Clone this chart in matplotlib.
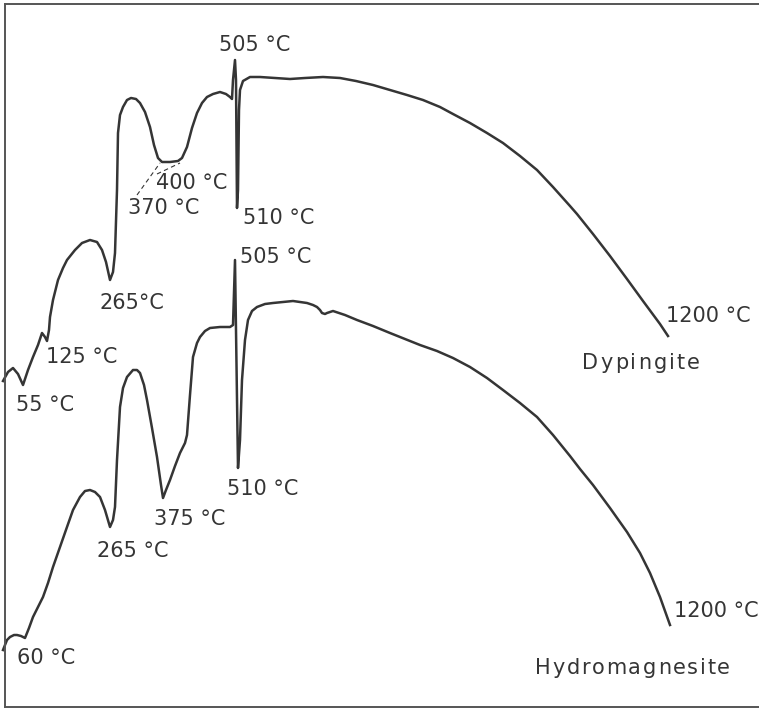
import matplotlib
matplotlib.use("Agg")
import matplotlib.pyplot as plt

# DTA traces in pixel units (x to the right, y downward)
dyp_x = [3, 8, 13, 18, 23, 28, 33, 38, 42, 45, 47, 49, 50, 53, 58, 63, 67, 75, 82, 90,
         97, 102, 106, 110, 113, 115, 117, 118, 120, 123, 127, 131, 136, 140, 145, 150,
         154, 158, 162, 170, 178, 182, 187, 192, 197, 202, 207, 213, 220, 226, 230, 232,
         233, 235, 236, 237, 238, 239, 240, 243, 250, 260, 275, 290, 305, 323, 340, 356,
         373, 390, 407, 423, 440, 453, 470, 487, 503, 520, 537, 553, 570, 577, 593, 610,
         627, 643, 660, 668]
dyp_y = [381, 372, 368, 374, 385, 370, 357, 345, 333, 337, 341, 330, 317, 300, 280, 268,
         260, 250, 243, 240, 242, 250, 262, 280, 272, 253, 190, 133, 115, 107, 100, 98,
         99, 103, 112, 127, 145, 158, 162, 162, 161, 158, 147, 128, 113, 103, 97, 94, 92,
         94, 97, 99, 80, 60, 80, 208, 190, 110, 90, 81, 77, 77, 78, 79, 78, 77, 78, 81,
         85, 90, 95, 100, 107, 114, 123, 133, 143, 156, 170, 187, 206, 214, 234, 256,
         279, 301, 324, 336]

hyd_x = [3, 7, 10, 14, 17, 21, 25, 29, 33, 38, 43, 48, 53, 60, 67, 73, 80, 85, 90, 95,
         100, 105, 110, 113, 115, 117, 120, 123, 127, 133, 137, 140, 144, 147, 152, 157,
         161, 163, 166, 170, 175, 180, 185, 187, 190, 193, 197, 200, 205, 210, 220, 230,
         233, 235, 236, 238, 240, 242, 245, 248, 252, 257, 265, 273, 283, 293, 300, 307,
         313, 317, 320, 322, 325, 327, 330, 333, 345, 357, 373, 390, 405, 420, 437, 453,
         470, 487, 503, 520, 537, 553, 570, 580, 593, 610, 627, 640, 650, 660, 670]
hyd_y = [650, 640, 637, 635, 635, 636, 638, 628, 617, 607, 597, 583, 567, 547, 527, 510,
         497, 491, 490, 492, 497, 510, 527, 520, 507, 460, 407, 388, 377, 370, 370, 373,
         385, 400, 428, 457, 485, 498, 490, 480, 466, 453, 443, 435, 395, 357, 343, 337,
         331, 328, 327, 327, 325, 260, 330, 468, 440, 380, 340, 320, 311, 307, 304, 303,
         302, 301, 302, 303, 305, 307, 310, 313, 314, 313, 312, 311, 315, 320, 326, 333,
         339, 345, 351, 358, 367, 378, 390, 403, 417, 435, 456, 469, 485, 508, 532, 553,
         573, 597, 625]

# peak labels: text, centre x, centre y
peak_text = ["505 °C", "400 °C", "370 °C", "510 °C", "265°C", "125 °C", "55 °C", "1200 °C",
             "505 °C", "375 °C", "510 °C", "265 °C", "60 °C", "1200 °C"]
peak_x = [255, 192, 164, 279, 132, 82, 45, 708, 276, 190, 263, 133, 46, 716]
peak_y = [45, 183, 208, 218, 303, 357, 405, 316, 257, 519, 489, 551, 658, 611]

names = ["Dypingite", "Hydromagnesite"]
name_left = [582, 535]
name_right = [700, 730]
name_y = [363, 668]

ink = "#353535"
fs = 15

fig = plt.figure(figsize=(7.59, 7.11), dpi=100)
ax = fig.add_axes([5 / 759, 4 / 711, 754 / 759, 703 / 711])
ax.set_xlim(5, 759)
ax.set_ylim(707, 4)
ax.set_xticks([])
ax.set_yticks([])
ax.spines["right"].set_visible(False)
for s in ["left", "top", "bottom"]:
    ax.spines[s].set_color("#555555")
    ax.spines[s].set_linewidth(1.4)

ax.plot(dyp_x, dyp_y, color=ink, lw=1.8, clip_on=False, solid_joinstyle="round")
ax.plot(hyd_x, hyd_y, color=ink, lw=1.8, clip_on=False, solid_joinstyle="round")

# dashed leaders for the flat 370/400 °C minimum
ax.plot([137, 160], [195, 163], color=ink, lw=0.8, ls=(0, (4, 3)))
ax.plot([157, 180], [174, 163], color=ink, lw=0.8, ls=(0, (4, 3)))

for t, x, y in zip(peak_text, peak_x, peak_y):
    ax.text(x, y, t, ha="center", va="center", fontsize=fs, color=ink)

# mineral names are letter-spaced in the original
fig.canvas.draw()
r = fig.canvas.get_renderer()
for name, x0, x1, y in zip(names, name_left, name_right, name_y):
    chars = [ax.text(0, y, c, ha="left", va="center", fontsize=fs, color=ink) for c in name]
    widths = [c.get_window_extent(r).width for c in chars]
    track = (x1 - x0 - sum(widths)) / (len(name) - 1)
    cur = x0
    for c, w in zip(chars, widths):
        c.set_x(cur)
        cur += w + track

fig.savefig("out.png", dpi=100)
